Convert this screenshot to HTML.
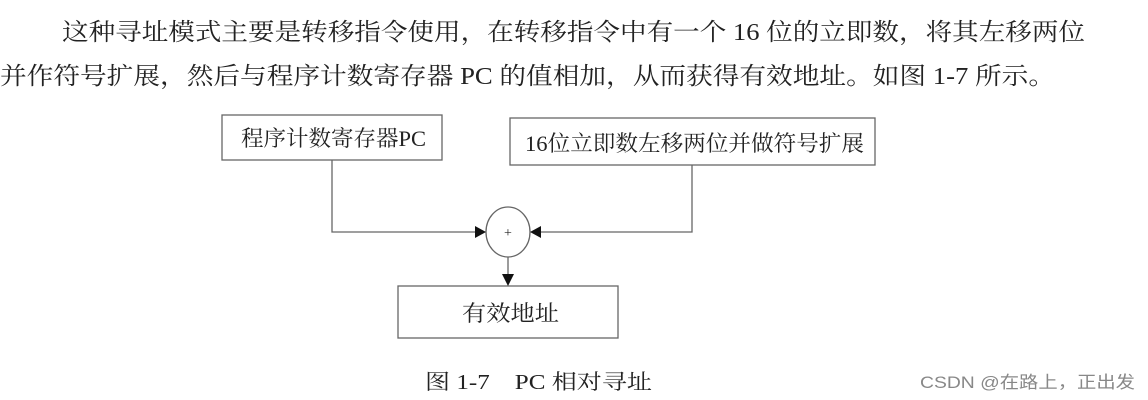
<!DOCTYPE html>
<html><head><meta charset="utf-8"><style>
html,body{margin:0;padding:0;background:#fff;}
svg{display:block;}
text{font-family:"Liberation Serif","Noto Serif CJK SC",serif;fill:#222;}
</style></head><body>
<svg width="1148" height="400" viewBox="0 0 1148 400" xmlns="http://www.w3.org/2000/svg">
<text x="62" y="40" font-size="24" textLength="1023" lengthAdjust="spacingAndGlyphs">这种寻址模式主要是转移指令使用，在转移指令中有一个 16 位的立即数，将其左移两位</text>
<text x="0" y="84" font-size="24" textLength="1055" lengthAdjust="spacingAndGlyphs">并作符号扩展，然后与程序计数寄存器 PC 的值相加，从而获得有效地址。如图 1-7 所示。</text>
<g fill="none" stroke="#666" stroke-width="1.3">
<rect x="222" y="115" width="220" height="45"/>
<rect x="510" y="118" width="365" height="47"/>
<rect x="398" y="286" width="220" height="52"/>
<ellipse cx="508" cy="232" rx="22" ry="25"/>
<polyline points="332,160 332,232 478,232"/>
<polyline points="692,165 692,232 540,232"/>
<line x1="508" y1="257" x2="508" y2="275"/>
</g>
<g fill="#111">
<polygon points="486,232 475,226 475,238"/>
<polygon points="530,232 541,226 541,238"/>
<polygon points="508,286 502,274 514,274"/>
</g>
<text x="508" y="237" font-size="14" text-anchor="middle" fill="#555">+</text>
<text x="241" y="146" font-size="22" textLength="185" lengthAdjust="spacingAndGlyphs">程序计数寄存器PC</text>
<text x="525" y="151" font-size="22" textLength="339" lengthAdjust="spacingAndGlyphs">16位立即数左移两位并做符号扩展</text>
<text x="462" y="321" font-size="22" textLength="97" lengthAdjust="spacingAndGlyphs">有效地址</text>
<text x="425" y="389" font-size="21" textLength="227" lengthAdjust="spacingAndGlyphs">图 1-7　PC 相对寻址</text>
<text x="920" y="388" font-size="17" textLength="215" lengthAdjust="spacingAndGlyphs" style="font-family:'Liberation Sans','Noto Sans CJK SC',sans-serif;fill:#888">CSDN @在路上，正出发</text>
</svg>
</body></html>
